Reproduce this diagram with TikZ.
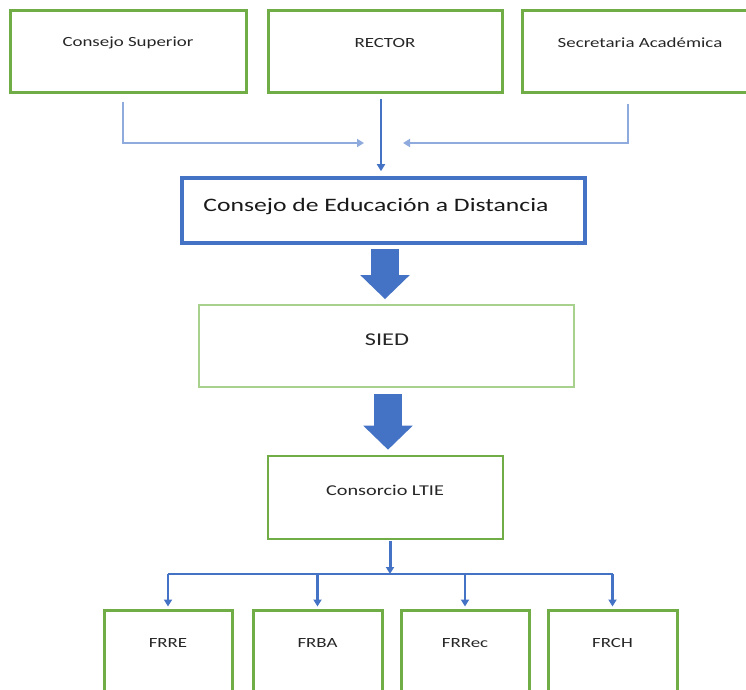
\documentclass[tikz,border=0pt]{standalone}
\usepackage{fontspec}
\setmainfont{Carlito}
\usepackage{graphicx}
\usetikzlibrary{arrows.meta}
\definecolor{boxgreen}{HTML}{70AD47}
\definecolor{palegreen}{HTML}{A9D18E}
\definecolor{linkblue}{HTML}{4472C4}
\definecolor{paleblue}{HTML}{8FAADC}
\definecolor{txtgray}{HTML}{262626}
\newcommand{\widetxt}[1]{\scalebox{1.35}[1]{#1}}
\tikzset{
  gbox/.style={draw=boxgreen, line width=3pt, inner sep=0pt},
  lbl/.style={text=txtgray, inner sep=0pt, font=\fontsize{14}{16}\selectfont},
  side/.style={draw=paleblue, line width=2.4pt, -{Triangle[width=8pt,length=7pt]}},
  link/.style={draw=linkblue, line width=2.2pt, -{Triangle[width=8pt,length=7pt]}},
  bigarrow/.style={draw=linkblue, line width=28pt, -{Triangle[width=48pt,length=24pt]}}
}
\begin{document}
\begin{tikzpicture}[x=1pt,y=-1pt]
		\useasboundingbox (0,0) rectangle (746,689);
		\clip (0,0) rectangle (746,689);

		% top row
		\node (cs)[gbox, minimum width=236pt, minimum height=82pt] at (128,51) {};
		\node (rec)[gbox, minimum width=234pt, minimum height=82pt] at (385,51) {};
		\node (sa)[gbox, minimum width=236pt, minimum height=82pt] at (640,51) {};
		\node (cst)[lbl] at (128,43) {\widetxt{Consejo Superior}};
		\node (rect)[lbl] at (385,43) {\widetxt{RECTOR}};
		\node (sat)[lbl] at (640,43) {\widetxt{Secretaria Académica}};

		\coordinate (jl) at (364,143);
		\coordinate (jr) at (403,143);

		% middle column
		\node (cead)[draw=linkblue, line width=3.6pt, minimum width=403pt, minimum height=65pt] at (383.5,210.5) {};
		\node (ceadt)[inner sep=0pt, text=black!90, font=\fontsize{19}{22}\selectfont] at (376,207) {\widetxt{Consejo de Educación a Distancia}};

		\node (sied)[draw=palegreen, line width=1.8pt, minimum width=375pt, minimum height=82pt] at (386.5,346) {};
		\node (siedt)[lbl, font=\fontsize{18}{20}\selectfont] at (387,340) {\widetxt{SIED}};

		\node (cons)[gbox, line width=2.6pt, minimum width=235pt, minimum height=83pt] at (385.5,497.5) {};
		\node (const)[lbl, font=\fontsize{15}{17}\selectfont] at (385,490) {\widetxt{Consorcio LTIE}};

		% bottom row
		\node (frre)[gbox, minimum width=128pt, minimum height=90pt] at (168,655) {};
		\node (frba)[gbox, minimum width=129pt, minimum height=90pt] at (317.5,655) {};
		\node (frrec)[gbox, minimum width=128pt, minimum height=90pt] at (465,655) {};
		\node (frch)[gbox, minimum width=129pt, minimum height=90pt] at (612.5,655) {};
		\node (frret)[lbl] at (168,643) {\widetxt{FRRE}};
		\node (frbat)[lbl] at (317.5,643) {\widetxt{FRBA}};
		\node (frrect)[lbl] at (465,643) {\widetxt{FRRec}};
		\node (frcht)[lbl] at (612.5,643) {\widetxt{FRCH}};

		\coordinate (bus) at (390,574);
		\coordinate (busl) at (168,574);
		\coordinate (busr) at (612.5,574);

		% connectors
		\draw[side] ([xshift=-5pt,yshift=-8pt]cs.south) |- (jl);
		\draw[side] ([xshift=-12pt,yshift=-10pt]sa.south) |- (jr);
		\draw[link, line width=1.8pt] ([xshift=-4pt,yshift=-5pt]rec.south) -- ([xshift=-2.5pt,yshift=5pt]cead.north);

		\draw[bigarrow] ([xshift=1.5pt,yshift=-4pt]cead.south) -- ([xshift=-1.5pt,yshift=5pt]sied.north);
		\draw[bigarrow] ([xshift=1.5pt,yshift=-6pt]sied.south) -- ([xshift=2.5pt,yshift=5pt]cons.north);

		\draw[link, line width=3pt] ([xshift=4.5pt,yshift=-1pt]cons.south) -- (bus);
		\draw[linkblue, line width=2.4pt] (busl) -- (busr);
		\foreach \n in {frre,frba,frrec,frch}
			\draw[link] (\n.north |- bus) -- ([yshift=2pt]\n.north);
	\end{tikzpicture}
\end{document}
